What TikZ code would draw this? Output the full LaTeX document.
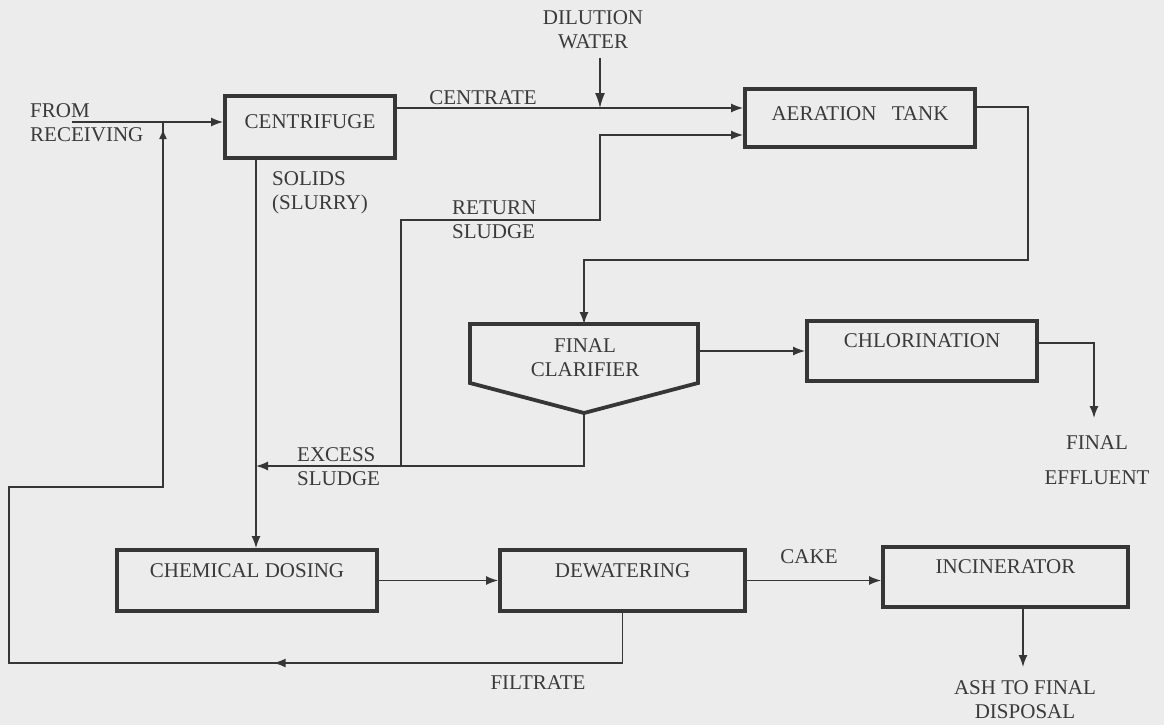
\documentclass[tikz,border=0pt]{standalone}
\usepackage{fontspec}
\setmainfont{Liberation Serif}
\usetikzlibrary{arrows.meta,decorations.markings}
\definecolor{paper}{HTML}{ECECEC}
\definecolor{ink}{HTML}{363636}
\definecolor{txt}{HTML}{3A3A3A}
\tikzset{
  unit box/.style={draw=ink, line width=3.8pt, text=txt, text height=15pt,
    text depth=22pt, inner sep=0pt, font=\fontsize{21}{24}\selectfont},
  lbl/.style={text=txt, inner sep=0pt, font=\fontsize{21}{24}\selectfont},
  pipe/.style={draw=ink, line width=1.5pt},
  flow/.style={pipe, -{Latex[length=12pt,width=9pt]}},
  filtrate return/.style={postaction=decorate, decoration={markings,
    mark=at position 399pt with {\arrow{Latex[length=12pt,width=9pt]}},
    mark=at position -7pt with {\arrow{Latex[length=10pt,width=8pt]}}}},
}
\begin{document}
\begin{tikzpicture}[x=1pt,y=-1pt]
\fill[paper] (0,0) rectangle (1164,725);

% process units
\node[unit box, minimum width=170pt, minimum height=62pt, text depth=13pt] (cent) at (310,127) {CENTRIFUGE};
\node[unit box, minimum width=230pt, minimum height=58pt, text depth=11pt] (aer) at (860,118) {AERATION\hspace{10pt} TANK};
\node[unit box, minimum width=230pt, minimum height=60pt] (chl) at (922,351) {CHLORINATION};
\node[unit box, minimum width=260pt, minimum height=61pt] (chem) at (247,580.5) {CHEMICAL DOSING};
\node[unit box, minimum width=245pt, minimum height=61pt] (dew) at (622.5,580.5) {DEWATERING};
\node[unit box, minimum width=245pt, minimum height=60pt] (inc) at (1005.5,577) {INCINERATOR};

% final clarifier: box with a hopper bottom
\node[minimum width=228pt, minimum height=59pt, inner sep=0pt, outer sep=0pt] (clar) at (584,353.5) {};
\coordinate (ctip) at (584,413);
\draw[ink, line width=3.8pt] (clar.north west) -- (clar.north east) -- (clar.south east)
  -- (ctip) -- (clar.south west) -- cycle;
\node[lbl, align=center] (clartxt) at (585,357.5) {FINAL\\CLARIFIER};

% stream labels
\node[lbl, align=left, anchor=west] (recvtxt) at (30,122.5) {FROM\\RECEIVING};
\node[lbl, align=center] (diltxt) at (593,29.5) {DILUTION\\WATER};
\node[lbl] (centxt) at (483,98) {CENTRATE};
\node[lbl, align=left, anchor=west] (soltxt) at (272,193) {SOLIDS\\(SLURRY)};
\node[lbl, align=left, anchor=west] (rettxt) at (452,220) {RETURN\\SLUDGE};
\node[lbl, align=left, anchor=west] (exctxt) at (297,467) {EXCESS\\SLUDGE};
\node[lbl] (caketxt) at (809,557) {CAKE};
\node[lbl] (filtxt) at (538,683) {FILTRATE};
\node[lbl, align=center] (efftxt) at (1097,460.5) {FINAL\\[11pt]EFFLUENT};
\node[lbl, align=center] (ashtxt) at (1025,700) {ASH TO FINAL\\DISPOSAL};

% line ends and bends
\coordinate (recv) at (72,122);
\coordinate (dtop) at (600,58);
\coordinate (dj) at (600,108);
\coordinate (exj) at (256,466);
\coordinate (rj) at (401,466);
\coordinate (rbend) at (600,220);
\coordinate (aout) at (1028,260);
\coordinate (effl) at (1094,418);
\coordinate (ashend) at (1023,667);
\coordinate (fleft) at (9,663);
\coordinate (fup) at (163,487);
\coordinate (fjoin) at (163,122);

% connectors
\draw[flow] (recv) -- (recv -| cent.west);
\draw[flow] ([yshift=19pt]cent.east) -- ([yshift=19pt]cent.east -| aer.west);
\draw[flow, -{Latex[length=15pt,width=10pt]}] (dtop) -- (dj);
\draw[flow] (rj) |- (rbend) |- ([yshift=-17pt]aer.west);
\draw[flow] ([yshift=11pt]aer.east) -| (aout) -| (clar.north);
\draw[flow] (chl.west -| clar.east) -- (chl.west);
\draw[flow] ([yshift=8pt]chl.east) -| (effl);
\draw[flow] (ctip) |- (exj);
\draw[flow] (cent.south -| exj) -- (chem.north -| exj);
\draw[flow] (chem.east) -- (dew.west);
\draw[flow] (dew.east) -- (dew.east -| inc.west);
\draw[flow] (inc.south -| ashend) -- (ashend);
\draw[pipe, filtrate return] (dew.south) |- (fleft) |- (fup) -- (fjoin);
\end{tikzpicture}
\end{document}
